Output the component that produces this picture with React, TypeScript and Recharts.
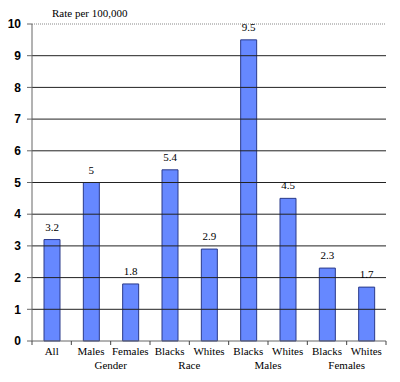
import React from 'react';
import { BarChart, Bar, XAxis, YAxis, ReferenceLine, LabelList } from 'recharts';

const categories = ['All', 'Males', 'Females', 'Blacks', 'Whites', 'Blacks', 'Whites', 'Blacks', 'Whites'];
const groupLabels = ['', 'Gender', '', 'Race', '', 'Males', '', 'Females', ''];
const rates = [3.2, 5, 1.8, 5.4, 2.9, 9.5, 4.5, 2.3, 1.7];
const yTicks = [0, 1, 2, 3, 4, 5, 6, 7, 8, 9, 10];
const gridLines = [1, 2, 3, 4, 5, 6, 7, 8, 9];

const chartData = categories.map((name, i) => ({
  key: `${name}-${i}`,
  name,
  group: groupLabels[i],
  rate: rates[i],
}));

const W = 400;
const H = 382;
const margin = { top: 24, right: 14, left: 0, bottom: 0 };
const yAxisWidth = 32;
const bandWidth = (W - margin.left - margin.right - yAxisWidth) / categories.length;

const serif = '"Liberation Serif", "Times New Roman", serif';
const sans = '"Liberation Sans", Arial, sans-serif';

const CategoryTick = (props: any) => {
  const { x, y, payload, index } = props;
  const item = chartData[index] ?? chartData[payload.index];
  const last = index === categories.length - 1;
  return (
    <g>
      <line x1={x - bandWidth / 2} x2={x - bandWidth / 2} y1={y} y2={y + 4} stroke="#444" />
      {last && <line x1={x + bandWidth / 2} x2={x + bandWidth / 2} y1={y} y2={y + 4} stroke="#444" />}
      <text x={x} y={y + 14} textAnchor="middle" fontFamily={serif} fontSize={11} fill="#000">
        {item.name}
      </text>
      {item.group && (
        <text x={x + bandWidth / 2} y={y + 28} textAnchor="middle" fontFamily={serif} fontSize={11} fill="#000">
          {item.group}
        </text>
      )}
    </g>
  );
};

export default function App() {
  return (
    <div style={{ position: 'absolute', left: 0, top: 0, width: W, height: H, background: '#fff' }}>
      <div
        style={{
          position: 'absolute',
          left: 52,
          top: 7,
          fontFamily: serif,
          fontSize: 11,
          color: '#000',
        }}
      >
        Rate per 100,000
      </div>
      <BarChart width={W} height={H} data={chartData} margin={margin} barSize={16}>
        <XAxis
          dataKey="key"
          interval={0}
          height={41}
          tickLine={false}
          tickSize={0}
          tickMargin={0}
          axisLine={{ stroke: '#666' }}
          tick={<CategoryTick />}
        />
        <YAxis
          width={yAxisWidth}
          domain={[0, 10]}
          ticks={yTicks}
          interval={0}
          tickSize={5}
          tickMargin={6}
          axisLine={{ stroke: '#666' }}
          tickLine={{ stroke: '#666' }}
          tick={{ fontFamily: sans, fontSize: 12, fontWeight: 'bold', fill: '#000' }}
        />
        {gridLines.map((v) => (
          <ReferenceLine key={v} y={v} stroke="#222" strokeWidth={1} />
        ))}
        <ReferenceLine y={10} stroke="#888" strokeDasharray="1 1" />
        <Bar dataKey="rate" fill="#6688ff" stroke="#2a3a8a" strokeWidth={1} isAnimationActive={false}>
          <LabelList
            dataKey="rate"
            position="top"
            offset={9}
            style={{ fontFamily: serif, fontSize: 11, fill: '#000' }}
          />
        </Bar>
      </BarChart>
    </div>
  );
}
